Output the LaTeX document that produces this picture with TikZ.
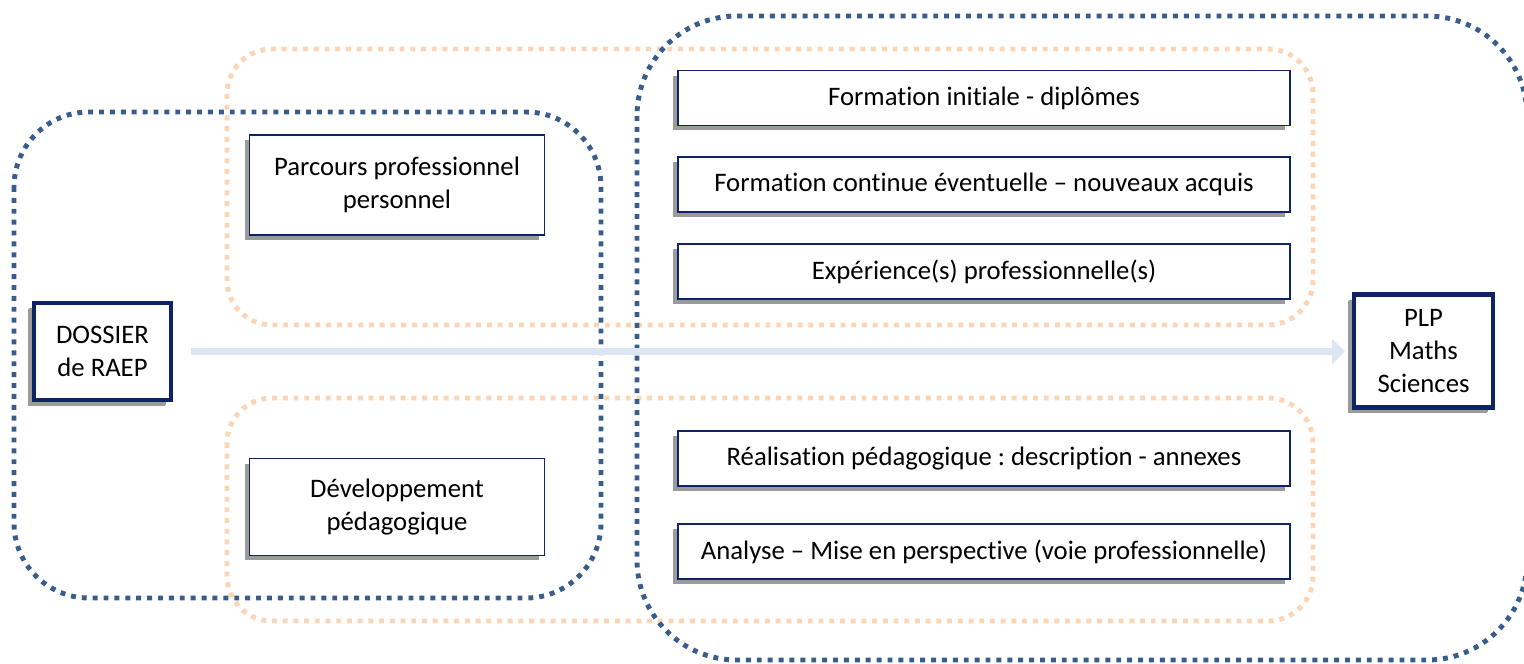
\documentclass[tikz,border=0pt]{standalone}
\usepackage{fontspec}
\setmainfont[Ligatures=NoCommon]{Carlito}
\usepackage{tikz}
\usetikzlibrary{arrows.meta}
\usetikzlibrary{shadows}
\usetikzlibrary{positioning}
\frenchspacing
\definecolor{navy}{HTML}{0F2465}
\definecolor{dotblue}{HTML}{385D8A}
\definecolor{dotorange}{HTML}{FCD5B5}
\definecolor{flowblue}{HTML}{DCE6F2}
\definecolor{shade}{HTML}{9B9B9B}
\tikzset{bluedots/.style = {draw=dotblue, line width=2.8pt, dash pattern=on 2.8pt off 3.4pt}}
\tikzset{orangedots/.style = {draw=dotorange, line width=2.8pt, dash pattern=on 2.8pt off 3.3pt}}
\tikzset{bloc/.style = {draw=navy, line width=1.1pt, fill=white, align=center,
                        font=\fontsize{15.2}{18.8}\selectfont, inner sep=0,
                        drop shadow={shadow xshift=-0.1cm, shadow yshift=-0.1cm, fill=shade, opacity=1}}}
\tikzset{wide/.style = {bloc, minimum width=12.24cm, minimum height=1.1cm}}
\tikzset{mid/.style = {bloc, minimum width=5.9cm, minimum height=2cm}}
\tikzset{ends/.style = {bloc, line width=2.3pt,
                        drop shadow={shadow xshift=-0.12cm, shadow yshift=-0.12cm, fill=shade, opacity=1}}}
\begin{document}
\begin{tikzpicture}[x=0.02cm, y=-0.02cm]
      \useasboundingbox (0, 0) rectangle (1524, 663);
      \draw [orangedots, rounded corners=0.9cm] (227, 49) rectangle (1313, 325);
      \draw [orangedots, rounded corners=0.9cm] (227, 398) rectangle (1313, 621);
      \draw [bluedots, rounded corners=1.5cm] (14, 112) rectangle (601, 598);
      \draw [bluedots, rounded corners=2cm] (637, 16) rectangle (1527, 660);
      \node [ends, minimum width=2.74cm, minimum height=1.94cm] (dossier) at (102.5, 351.5) {DOSSIER\\de RAEP};
      \node [ends, minimum width=2.78cm, minimum height=2.26cm] (plp) at (1423.5, 351) {PLP\\Maths\\Sciences};
      \draw [flowblue, line width=4.5pt, -{Triangle[length=0.26cm, width=0.5cm]},
             shorten <=0.36cm, shorten >=0.14cm] (dossier.east) -- (dossier.east -| plp.west);
      \node [mid] (parcours) at (397, 185) {Parcours professionnel\\personnel};
      \node [mid, minimum height=1.94cm] (devel) at (397, 507) {Développement\\pédagogique};
      \node [wide] (initiale) at (984, 98) {Formation initiale - diplômes};
      \node [wide] (continue) at (984, 184.5) {Formation continue éventuelle – nouveaux acquis};
      \node [wide] (experience) at (984, 271.5) {Expérience(s) professionnelle(s)};
      \node [wide] (realisation) at (984, 458.5) {Réalisation pédagogique : description - annexes};
      \node [wide] (analyse) at (984, 551.5) {Analyse – Mise en perspective (voie professionnelle)};
\end{tikzpicture}
\end{document}
